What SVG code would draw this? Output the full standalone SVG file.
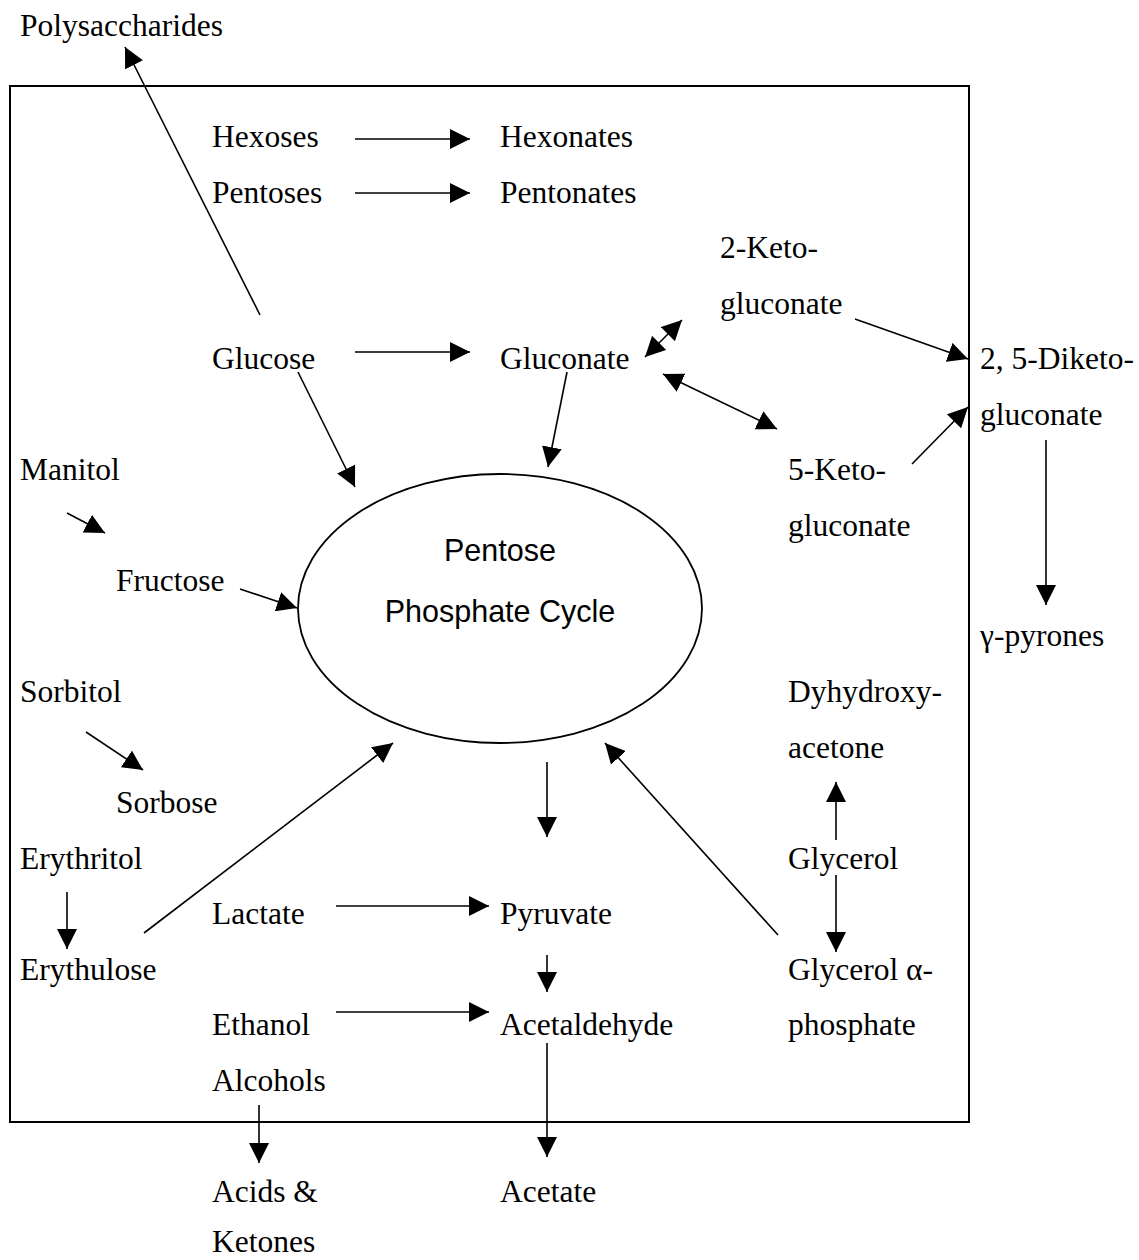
<svg xmlns="http://www.w3.org/2000/svg" width="1139" height="1260" viewBox="0 0 1139 1260">
<style>
  .t { font-family: "Liberation Serif", "Times New Roman", serif; font-size: 31.5px; fill: #000; }
  .s { font-family: "Liberation Sans", Arial, sans-serif; font-size: 30.5px; fill: #000; text-anchor: middle; }
  .c line { stroke: #000; stroke-width: 1.6; fill: none; }
  .arr { marker-end: url(#ah); }
  .dbl { marker-start: url(#ah); marker-end: url(#ah); }
</style>
<defs>
  <marker id="ah" markerUnits="userSpaceOnUse" markerWidth="20" markerHeight="20" refX="20" refY="10" orient="auto-start-reverse" viewBox="0 0 20 20">
    <path d="M0,0 L20,10 L0,20 z" fill="#000"/>
  </marker>
</defs>
<rect width="1139" height="1260" fill="#fff"/>
<rect id="cell" x="10" y="86" width="959" height="1036" fill="none" stroke="#000" stroke-width="2"/>

<g id="ppc">
  <ellipse cx="500" cy="608.5" rx="202" ry="134.5" fill="none" stroke="#000" stroke-width="1.8"/>
  <text class="s" x="500" y="561">Pentose</text>
  <text class="s" x="500" y="622">Phosphate Cycle</text>
</g>

<g id="polysaccharides"><text class="t" x="20" y="36">Polysaccharides</text></g>
<g id="hexoses"><text class="t" x="212" y="147">Hexoses</text></g>
<g id="hexonates"><text class="t" x="500" y="147">Hexonates</text></g>
<g id="pentoses"><text class="t" x="212" y="202.5">Pentoses</text></g>
<g id="pentonates"><text class="t" x="500" y="202.5">Pentonates</text></g>
<g id="ketogluconate2"><text class="t" x="720" y="258">2-Keto-</text><text class="t" x="720" y="313.5">gluconate</text></g>
<g id="glucose"><text class="t" x="212" y="369">Glucose</text></g>
<g id="gluconate"><text class="t" x="500" y="369">Gluconate</text></g>
<g id="diketogluconate"><text class="t" x="980" y="369">2, 5-Diketo-</text><text class="t" x="980" y="424.5">gluconate</text></g>
<g id="manitol"><text class="t" x="20" y="480">Manitol</text></g>
<g id="ketogluconate5"><text class="t" x="788" y="480">5-Keto-</text><text class="t" x="788" y="535.5">gluconate</text></g>
<g id="fructose"><text class="t" x="116" y="591">Fructose</text></g>
<g id="pyrones"><text class="t" x="980" y="646">γ-pyrones</text></g>
<g id="sorbitol"><text class="t" x="20" y="702">Sorbitol</text></g>
<g id="dihydroxyacetone"><text class="t" x="788" y="702">Dyhydroxy-</text><text class="t" x="788" y="757.5">acetone</text></g>
<g id="sorbose"><text class="t" x="116" y="813">Sorbose</text></g>
<g id="erythritol"><text class="t" x="20" y="868.5">Erythritol</text></g>
<g id="glycerol"><text class="t" x="788" y="868.5">Glycerol</text></g>
<g id="lactate"><text class="t" x="212" y="924">Lactate</text></g>
<g id="pyruvate"><text class="t" x="500" y="924">Pyruvate</text></g>
<g id="erythulose"><text class="t" x="20" y="979.5">Erythulose</text></g>
<g id="glycerolphosphate"><text class="t" x="788" y="979.5">Glycerol α-</text><text class="t" x="788" y="1035">phosphate</text></g>
<g id="ethanol"><text class="t" x="212" y="1035">Ethanol</text><text class="t" x="212" y="1090.5">Alcohols</text></g>
<g id="acetaldehyde"><text class="t" x="500" y="1035">Acetaldehyde</text></g>
<g id="acids"><text class="t" x="212" y="1201.5">Acids &amp;</text><text class="t" x="212" y="1252">Ketones</text></g>
<g id="acetate"><text class="t" x="500" y="1201.5">Acetate</text></g>

<g id="connectors" class="c">
  <line class="arr" x1="260" y1="315" x2="125" y2="47"/>
  <line class="arr" x1="355" y1="139" x2="470" y2="139"/>
  <line class="arr" x1="355" y1="193" x2="470" y2="193"/>
  <line class="arr" x1="355" y1="352" x2="470" y2="352"/>
  <line class="arr" x1="298" y1="372" x2="355" y2="487"/>
  <line class="arr" x1="567" y1="372" x2="548" y2="467"/>
  <line class="dbl" x1="645" y1="357" x2="682" y2="320"/>
  <line class="dbl" x1="663" y1="374" x2="777" y2="429"/>
  <line class="arr" x1="855" y1="319" x2="968" y2="359"/>
  <line class="arr" x1="912" y1="464" x2="968" y2="407"/>
  <line class="arr" x1="1046" y1="440" x2="1046" y2="605"/>
  <line class="arr" x1="67" y1="513" x2="105" y2="533"/>
  <line class="arr" x1="240" y1="589" x2="297" y2="608"/>
  <line class="arr" x1="86" y1="732" x2="143" y2="770"/>
  <line class="arr" x1="67" y1="892" x2="67" y2="949"/>
  <line class="arr" x1="144" y1="933" x2="393" y2="743"/>
  <line class="arr" x1="547" y1="762" x2="547" y2="837"/>
  <line class="arr" x1="336" y1="906" x2="489" y2="906"/>
  <line class="arr" x1="547" y1="955" x2="547" y2="992"/>
  <line class="arr" x1="336" y1="1012" x2="489" y2="1012"/>
  <line class="arr" x1="547" y1="1043" x2="547" y2="1157"/>
  <line class="arr" x1="259" y1="1105" x2="259" y2="1163"/>
  <line class="arr" x1="778" y1="935" x2="605" y2="743"/>
  <line class="arr" x1="836" y1="840" x2="836" y2="782"/>
  <line class="arr" x1="836" y1="875" x2="836" y2="952"/>
</g>
</svg>
